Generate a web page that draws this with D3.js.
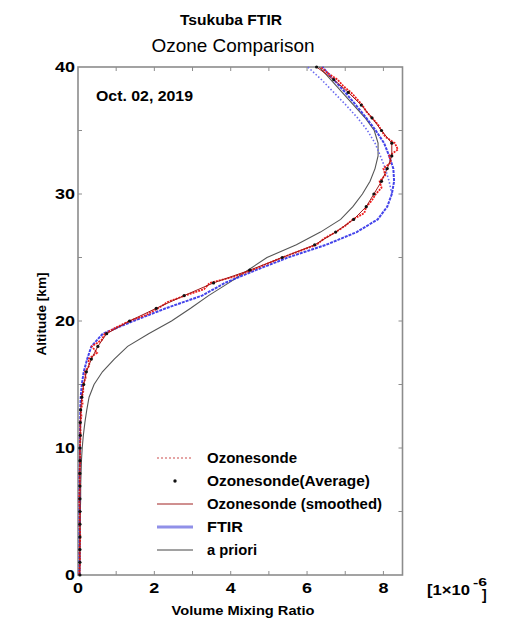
<!DOCTYPE html>
<html>
<head>
<meta charset="utf-8">
<script src="https://cdn.jsdelivr.net/npm/d3@7"></script>
<style>
  body { margin: 0; background: #fff; }
  svg text { font-family: "Liberation Sans", Arial, sans-serif; }
</style>
</head>
<body>
<div id="chart"></div>
<script>
(function () {
"use strict";

// altitude grid (km) for retrieved / smoothed profiles
var altKm = d3.range(0, 41);

// FTIR retrieval [ppmv]
var ftirVmr = [0.04, 0.04, 0.04, 0.04, 0.04, 0.04, 0.04, 0.04, 0.04, 0.05,
	0.05, 0.05, 0.06, 0.06, 0.07, 0.10, 0.15, 0.24, 0.35, 0.65,
	1.45, 2.30, 3.25, 3.85, 4.65, 5.50, 6.50, 7.30, 7.85, 8.10,
	8.22, 8.28, 8.26, 8.15, 8.02, 7.80, 7.55, 7.28, 7.00, 6.70, 6.40];

// FTIR (dotted upper part)
var ftirDotAlt = [30, 31, 32, 33, 34, 35, 36, 37, 38, 39, 40];
var ftirDotVmr = [8.22, 8.15, 8.05, 7.92, 7.78, 7.58, 7.32, 7.02, 6.70, 6.38, 6.02];

// ozonesonde smoothed with FTIR resolution
var smoothVmr = [0.05, 0.05, 0.05, 0.05, 0.05, 0.05, 0.05, 0.05, 0.05, 0.05,
	0.05, 0.06, 0.06, 0.07, 0.10, 0.15, 0.22, 0.35, 0.52, 0.75,
	1.35, 2.05, 2.78, 3.55, 4.50, 5.35, 6.20, 6.75, 7.22, 7.55,
	7.75, 7.95, 8.10, 8.22, 8.22, 7.95, 7.70, 7.42, 7.08, 6.70, 6.25];

// a priori profile
var aprioriVmr = [0.04, 0.04, 0.05, 0.05, 0.06, 0.06, 0.07, 0.07, 0.08, 0.09,
	0.11, 0.14, 0.18, 0.23, 0.29, 0.42, 0.64, 0.95, 1.30, 1.85,
	2.45, 2.95, 3.42, 3.95, 4.45, 4.95, 5.72, 6.35, 6.88, 7.20,
	7.45, 7.65, 7.78, 7.86, 7.86, 7.76, 7.52, 7.22, 6.92, 6.62, 6.32];

// raw ozonesonde
var sondeAlt = [0, 1, 2, 3, 4, 5, 6, 7, 8, 9, 10, 11, 12, 12.5, 13, 13.5, 14, 14.5,
	15, 15.5, 16, 16.5, 17, 17.5, 18, 18.5, 19, 19.5, 20, 20.5, 21, 21.5, 22, 22.5,
	23, 23.5, 24, 24.5, 25, 25.5, 26, 26.5, 27, 27.5, 28, 28.5, 29, 29.5, 30, 30.5,
	31, 31.5, 32, 32.5, 33, 33.5, 34, 34.5, 35, 35.5, 36, 36.5, 37, 37.5, 38, 38.5,
	39, 39.5, 40];
var sondeVmr = [0.03, 0.05, 0.04, 0.06, 0.04, 0.05, 0.03, 0.05, 0.04, 0.06, 0.05, 0.07, 0.06, 0.09, 0.07, 0.12, 0.10, 0.14,
	0.13, 0.20, 0.18, 0.30, 0.27, 0.50, 0.36, 0.62, 0.70, 1.00, 1.35, 1.80, 2.10, 2.35, 2.80, 3.30,
	3.45, 4.10, 4.55, 4.95, 5.35, 5.80, 6.25, 6.45, 6.75, 7.00, 7.20, 7.50, 7.55, 7.70, 7.80, 7.95,
	7.90, 8.05, 8.00, 8.20, 8.15, 8.38, 8.30, 8.05, 7.95, 7.85, 7.70, 7.55, 7.45, 7.30, 7.15, 6.95,
	6.80, 6.55, 6.35];

var legendNames = ["Ozonesonde", "Ozonesonde(Average)", "Ozonesonde (smoothed)", "FTIR", "a priori"];
var legendWidths = [90, 163, 175, 36, 50];
var xTicks = [0, 2, 4, 6, 8];
var yTicks = [0, 10, 20, 30, 40];

var width = 510, height = 618;
var x = d3.scaleLinear().domain([0, 8.5]).range([78, 402.5]);
var y = d3.scaleLinear().domain([0, 40]).range([575, 67]);

var svg = d3.select("#chart").append("svg")
	.attr("width", width)
	.attr("height", height);

// text helper: the source picture is stretched sideways, so fit width explicitly
function label(g, tx, ty, str, size, bold, len, anchor) {
	var t = g.append("text").attr("x", tx).attr("y", ty)
		.attr("text-anchor", anchor || "start")
		.style("font-size", size + "px")
		.style("font-weight", bold ? "bold" : "normal")
		.text(str);
	if (len) t.attr("textLength", len).attr("lengthAdjust", "spacingAndGlyphs");
	return t;
}

// titles
label(svg, 231, 25, "Tsukuba FTIR", 14, true, 102, "middle");
label(svg, 233, 52, "Ozone Comparison", 19, false, 163, "middle");

// frame + ticks
var frame = svg.append("g").attr("stroke", "#8c8c8c").attr("fill", "none");
frame.append("rect")
	.attr("x", x(0)).attr("y", y(40))
	.attr("width", x(8.5) - x(0)).attr("height", y(0) - y(40))
	.attr("stroke-width", 1.6);

var xMinor = d3.range(1, 9);
frame.selectAll(".xt").data(xMinor).enter().append("line")
	.attr("x1", function (d) { return x(d); }).attr("x2", function (d) { return x(d); })
	.attr("y1", y(0)).attr("y2", y(0) - 4);
frame.selectAll(".xt2").data(xMinor).enter().append("line")
	.attr("x1", function (d) { return x(d); }).attr("x2", function (d) { return x(d); })
	.attr("y1", y(40)).attr("y2", y(40) + 4);
var yMinor = d3.range(5, 40, 5);
frame.selectAll(".yt").data(yMinor).enter().append("line")
	.attr("x1", x(0)).attr("x2", x(0) + 4)
	.attr("y1", function (d) { return y(d); }).attr("y2", function (d) { return y(d); });
frame.selectAll(".yt2").data(yMinor).enter().append("line")
	.attr("x1", x(8.5)).attr("x2", x(8.5) - 4)
	.attr("y1", function (d) { return y(d); }).attr("y2", function (d) { return y(d); });

// tick labels
xTicks.forEach(function (d) {
	label(svg, x(d), y(0) + 18, String(d), 14, true, 10 * String(d).length, "middle");
});
yTicks.forEach(function (d) {
	label(svg, x(0) - 3, y(d) + 5, String(d), 14, true, 10 * String(d).length, "end");
});

// axis titles
label(svg, 0, 0, "Altitude [km]", 13, true, 83, "middle")
	.attr("transform", "translate(46," + 314 + ") rotate(-90)");
label(svg, 243, 615, "Volume Mixing Ratio", 13, true, 143, "middle");

// unit, cut off at the right like the source image
svg.append("clipPath").attr("id", "unitClip")
	.append("rect").attr("x", 420).attr("y", 570).attr("width", 67).attr("height", 40);
var unit = svg.append("g").attr("clip-path", "url(#unitClip)");
label(unit, 427, 595, "[1\u00d710", 14, true, 43);
label(unit, 473, 586, "-6", 10, true, 14);
label(unit, 482, 600, "]", 14, true);

label(svg, 96, 101, "Oct. 02, 2019", 14, true, 97);

// profiles
var plot = svg.append("g");
var line = d3.line()
	.x(function (d) { return x(d[1]); })
	.y(function (d) { return y(d[0]); });

function pairs(a, v) { return a.map(function (h, i) { return [h, v[i]]; }); }

plot.append("path").datum(pairs(altKm, aprioriVmr))
	.attr("d", line).attr("fill", "none").attr("stroke", "#555").attr("stroke-width", 1.1);

plot.append("path").datum(pairs(ftirDotAlt, ftirDotVmr))
	.attr("d", line).attr("fill", "none").attr("stroke", "#6a6af0")
	.attr("stroke-width", 1.6).attr("stroke-dasharray", "1.5,2");

plot.append("path").datum(pairs(altKm, ftirVmr))
	.attr("d", line).attr("fill", "none").attr("stroke", "#2f2fe8")
	.attr("stroke-width", 2).attr("stroke-dasharray", "3,1").attr("opacity", 0.9);

plot.append("path").datum(pairs(sondeAlt, sondeVmr))
	.attr("d", line).attr("fill", "none").attr("stroke", "#ee1c1c")
	.attr("stroke-width", 1.8).attr("stroke-dasharray", "2,1");

plot.append("path").datum(pairs(altKm, smoothVmr))
	.attr("d", line).attr("fill", "none").attr("stroke", "#a01818").attr("stroke-width", 1);

plot.selectAll(".avg").data(pairs(altKm, smoothVmr)).enter().append("circle")
	.attr("cx", function (d) { return x(d[1]); })
	.attr("cy", function (d) { return y(d[0]); })
	.attr("r", 1.6).attr("fill", "#111");

// legend
var leg = svg.append("g");
var ly = d3.scalePoint().domain(legendNames).range([458, 550]);
legendNames.forEach(function (d, i) {
	label(leg, 207, ly(d) + 5, d, 14, true, legendWidths[i]);
});
leg.append("line").attr("x1", 157).attr("x2", 193)
	.attr("y1", ly(legendNames[0])).attr("y2", ly(legendNames[0]))
	.attr("stroke", "#d88").attr("stroke-width", 1.4).attr("stroke-dasharray", "2,2");
leg.append("circle").attr("cx", 175).attr("cy", ly(legendNames[1])).attr("r", 1.7).attr("fill", "#111");
leg.append("line").attr("x1", 157).attr("x2", 193)
	.attr("y1", ly(legendNames[2])).attr("y2", ly(legendNames[2]))
	.attr("stroke", "#a02020").attr("stroke-width", 1);
leg.append("line").attr("x1", 157).attr("x2", 193)
	.attr("y1", ly(legendNames[3])).attr("y2", ly(legendNames[3]))
	.attr("stroke", "#9090e8").attr("stroke-width", 3);
leg.append("line").attr("x1", 157).attr("x2", 193)
	.attr("y1", ly(legendNames[4])).attr("y2", ly(legendNames[4]))
	.attr("stroke", "#444").attr("stroke-width", 1);

})();
</script>
</body>
</html>
